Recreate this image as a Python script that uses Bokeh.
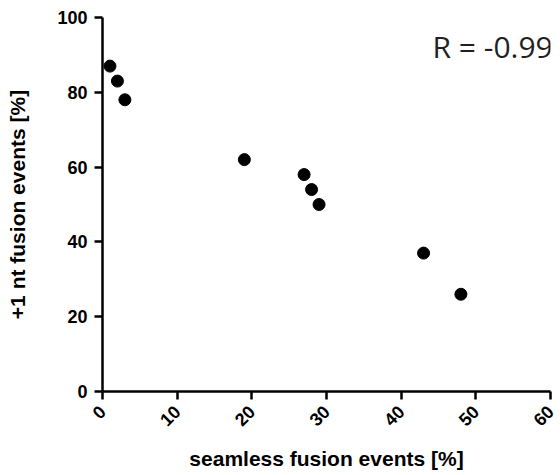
import math
from bokeh.plotting import figure
from bokeh.models import Range1d, FixedTicker, Label
from bokeh.embed import file_html
from bokeh.resources import INLINE

seamless = [1, 2, 3, 19, 27, 28, 29, 43, 48]
plus_one = [87, 83, 78, 62, 58, 54, 50, 37, 26]
x_ticks = [0, 10, 20, 30, 40, 50, 60]
y_ticks = [0, 20, 40, 60, 80, 100]
r_text = "R = -0.99"

p = figure(width=560, height=475, output_backend="svg", toolbar_location=None,
           x_range=Range1d(0, 60), y_range=Range1d(0, 100),
           min_border_left=102, min_border_right=10, min_border_top=17, min_border_bottom=84)
p.outline_line_color = None
p.grid.visible = False
p.background_fill_color = "white"
p.border_fill_color = "white"

p.scatter(seamless, plus_one, size=12, color="black", marker="circle")

for ax, ticks in ((p.xaxis[0], x_ticks), (p.yaxis[0], y_ticks)):
    ax.ticker = FixedTicker(ticks=ticks)
    ax.axis_line_color = "black"
    ax.axis_line_width = 2.5
    ax.major_tick_line_color = "black"
    ax.major_tick_line_width = 2.5
    ax.major_tick_out = 8
    ax.major_tick_in = 0
    ax.minor_tick_line_color = None
    ax.major_label_text_font = "Liberation Sans"
    ax.major_label_text_font_style = "bold"
    ax.major_label_text_font_size = "18px"
    ax.major_label_text_color = "black"
    ax.axis_label_text_font = "Liberation Sans"
    ax.axis_label_text_font_style = "bold"
    ax.axis_label_text_font_size = "21px"
    ax.axis_label_text_color = "black"

p.xaxis.axis_label = "seamless fusion events [%]"
p.yaxis.axis_label = "+1 nt fusion events [%]"
p.xaxis.major_label_orientation = math.pi / 4
p.yaxis.major_label_standoff = 7
p.xaxis.major_label_standoff = 9
p.yaxis.axis_label_standoff = 25
p.xaxis.axis_label_standoff = 12

p.add_layout(Label(x=44.2, y=92.2, text=r_text, text_font="Open Sans",
                   text_font_size="30px", text_color="#231f20",
                   text_baseline="alphabetic", level="overlay"))

open("out.html", "w").write(file_html(p, INLINE))
